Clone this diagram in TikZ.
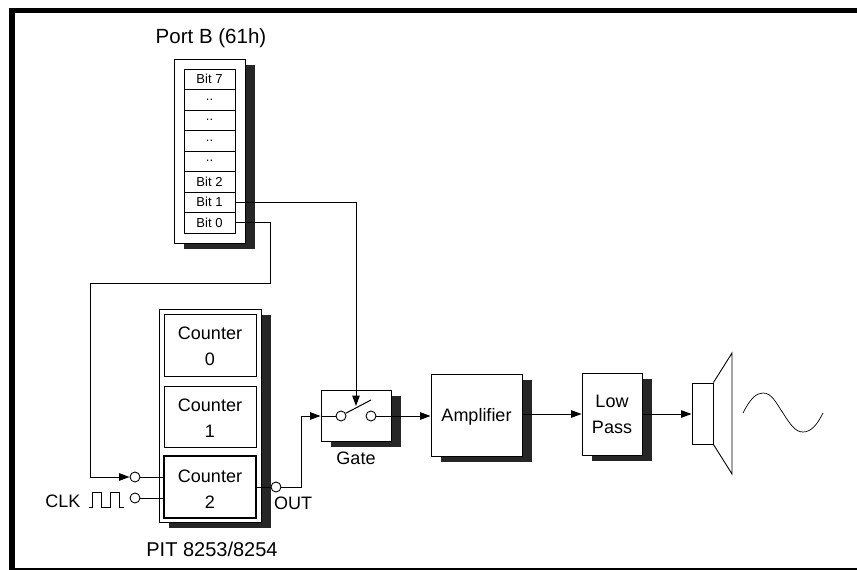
\documentclass[tikz,border=0pt]{standalone}
\usepackage{fontspec}
\setmainfont{Liberation Sans}
\usetikzlibrary{shadows,arrows.meta}
\tikzset{
  labeltext/.style={inner sep=0pt, font=\fontsize{18}{26}\selectfont, align=center},
  cellbox/.style={draw, line width=0.9pt, fill=white, minimum width=51pt, minimum height=20.5pt, inner sep=0pt, font=\fontsize{13}{15}\selectfont},
  plainbox/.style={draw, line width=0.9pt, fill=white, inner sep=0pt, font=\fontsize{18}{26}\selectfont, align=center},
  dropbox/.style={plainbox, copy shadow={fill=black!85, draw=none, shadow xshift=9.5pt, shadow yshift=-6pt}},
  portdot/.style={draw, line width=0.9pt, fill=white, circle, minimum size=10pt, inner sep=0pt},
  wire/.style={line width=1pt},
  feed/.style={wire, -{Triangle[length=10.5pt,width=7.5pt]}}
}
\begin{document}
\begin{tikzpicture}[x=1pt,y=-1pt]
\useasboundingbox (0,0) rectangle (857,570);
% frame, open on the right
\fill (9,8) rectangle (857,13);
\fill (9,8) rectangle (15,570);
\fill (9,568) rectangle (857,570);

% port register
\node[dropbox, minimum width=71pt, minimum height=184pt] (portb) at (209.5,151) {};
\node[cellbox] (bit7) at (209.5,79.25) {Bit 7};
\node[cellbox] (bit6) at (209.5,99.75) {..};
\node[cellbox] (bit5) at (209.5,120.25) {..};
\node[cellbox] (bit4) at (209.5,140.75) {..};
\node[cellbox] (bit3) at (209.5,161.25) {..};
\node[cellbox] (bit2) at (209.5,181.75) {Bit 2};
\node[cellbox] (bit1) at (209.5,202.25) {Bit 1};
\node[cellbox] (bit0) at (209.5,222.75) {Bit 0};
\node[labeltext, font=\fontsize{20.5}{24}\selectfont] (portname) at (211,38) {Port B (61h)};

% timer
\node[dropbox, minimum width=102pt, minimum height=213pt] (pit) at (210,415.5) {};
\node[plainbox, minimum width=92pt, minimum height=62pt] (cnt0) at (210,345) {\rule{0pt}{16pt}Counter\\0};
\node[plainbox, minimum width=92pt, minimum height=61pt] (cnt1) at (210,416.5) {\rule{0pt}{16pt}Counter\\1};
\node[plainbox, line width=1.1pt, minimum width=92pt, minimum height=62pt] (cnt2) at (210,487) {\rule{0pt}{16pt}Counter\\2};
\node[labeltext, font=\fontsize{20}{24}\selectfont] (pitname) at (212,549) {PIT 8253/8254};

% inputs and output of counter 2
\node[portdot] (gatein) at (135,477) {};
\node[portdot] (clkin) at (135,498) {};
\node[portdot] (outdot) at (276,487) {};
\node[labeltext] (clklabel) at (63,501) {CLK};
\node[labeltext] (outlabel) at (293,503) {OUT};
\draw[wire] (89,507) -- (92,507) -- (92,492) -- (101,492) -- (101,507) -- (110,507) -- (110,492) -- (119,492) -- (119,507) -- (124,507);
\draw[wire] (gatein) -- (gatein -| cnt2.west);
\draw[wire] (clkin) -- (clkin -| cnt2.west);
\draw[wire] (outdot -| cnt2.east) -- (outdot);

% gate
\node[dropbox, minimum width=70pt, minimum height=51pt] (gatebox) at (356,415.5) {};
\node[portdot] (swleft) at (341,416) {};
\node[portdot] (swright) at (371,416) {};
\coordinate (swtip) at (371,400);
\draw[wire] (swleft.30) -- (swtip);
\node[labeltext] (gatelabel) at (356,458) {Gate};

% chain to the speaker
\node[dropbox, text depth=0pt, minimum width=91pt, minimum height=82pt] (amp) at (476.5,415) {Amplifier};
\node[dropbox, minimum width=60pt, minimum height=82pt] (lowpass) at (612,414) {\rule{0pt}{14pt}Low\\Pass};
\node[draw, line width=0.9pt, minimum width=21pt, minimum height=61pt, inner sep=0pt] (spk) at (702.5,413.5) {};
\draw[line width=0.9pt] (spk.north east) -- (732,353) -- (732,474) -- (spk.south east);
\draw[line width=0.7pt] (743,413) .. controls (750,399) and (756,393) .. (763,393) .. controls (772,393) and (776,403) .. (783,413) .. controls (790,424) and (795,432) .. (803,432) .. controls (811,432) and (817,425) .. (823,413);

% connections
\coordinate (outknee) at (301,416);
\draw[wire] (outdot) -- (outdot -| outknee) -- (outknee);
\draw[feed] (outknee) -- (outknee -| gatebox.west);
\draw[wire] (outknee -| gatebox.west) -- (swleft);
\draw[feed] (swright) -- (swright -| amp.west);
\draw[feed] (amp.east |- 0,414) -- (lowpass.west |- 0,414);
\draw[feed] (lowpass.east |- 0,414) -- (spk.west |- 0,414);
\coordinate (bit1drop) at (356,406);
\draw[feed] (bit1.east) -- (bit1drop |- bit1.east) -- (bit1drop);
\coordinate (bit0knee) at (270,283);
\coordinate (loopleft) at (90,283);
\draw[feed] (bit0.east) -- (bit0knee |- bit0.east) -- (bit0knee) -- (loopleft) -- (loopleft |- gatein) -- (gatein);
\end{tikzpicture}
\end{document}
